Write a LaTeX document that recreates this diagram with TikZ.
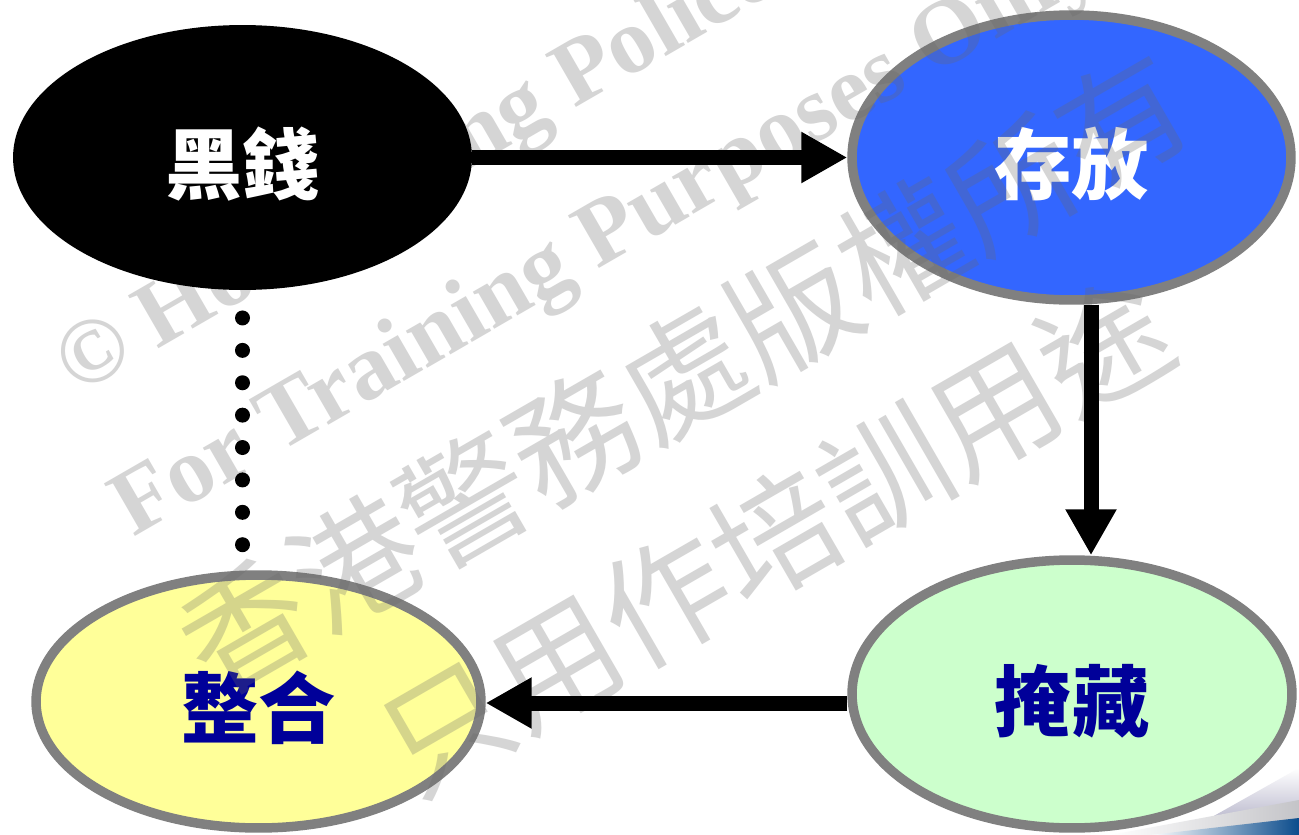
\documentclass[tikz,border=0pt]{standalone}
\usepackage{fontspec}
\newfontfamily\cjk{Noto Sans CJK TC}
\newfontfamily\wmserif{Liberation Serif}
\usetikzlibrary{shapes.geometric,arrows.meta}
\definecolor{nodeblue}{HTML}{3366FF}
\definecolor{bordergray}{HTML}{808080}
\definecolor{nodeyellow}{HTML}{FFFF99}
\definecolor{nodegreen}{HTML}{CCFFCC}
\definecolor{labelblue}{HTML}{000099}
\definecolor{wmgray}{RGB}{105,105,105}
\definecolor{swblue}{HTML}{0B4C8C}
\definecolor{swgray}{HTML}{C4C4C8}
\definecolor{swlav}{HTML}{A8A6C0}
\pgfdeclarelayer{wm}
\pgfdeclarelayer{top}
\pgfsetlayers{main,wm,top}
\begin{document}
\begin{tikzpicture}[x=0.02cm,y=-0.02cm,
  oval/.style={ellipse, inner sep=0pt, draw=bordergray, line width=0.19cm,
    font=\cjk\bfseries\fontsize{44}{44}\selectfont, text height=1.46cm, text depth=0cm},
  flow/.style={line width=0.3cm, -{Triangle[length=0.92cm,width=0.96cm]}},
  dots/.style={line width=0.3cm, line cap=round, dash pattern=on 0pt off 0.648cm, dash phase=0.088cm},
  wmen/.style={text=wmgray, text opacity=0.28, font=\wmserif\bfseries\fontsize{53}{53}\selectfont,
    rotate=30, inner sep=0pt, anchor=base west},
  wmzh/.style={text=wmgray, text opacity=0.28, font=\cjk\fontsize{72}{72}\selectfont,
    rotate=30, inner sep=0pt, anchor=center}]
\useasboundingbox (0,0) rectangle (1299,835);
\fill[white] (0,0) rectangle (1299,835);
% slide background swoosh (bottom right)
\shade[top color=white, bottom color=swlav] (1180,835) -- (1299,768) -- (1299,802) -- (1180,835) -- cycle;
\shade[left color=white, right color=swgray] (1110,835) -- (1299,800) -- (1299,835) -- cycle;
\shade[left color=white, right color=swblue] (1150,835) -- (1299,818) -- (1299,835) -- cycle;
% coloured nodes (under the watermark)
\node[oval, fill=nodeblue, text=white,
  minimum width=8.78cm, minimum height=5.7cm] (store) at (1071.5,157.5) {存放};
\node[oval, fill=nodegreen, text=labelblue,
  minimum width=8.8cm, minimum height=5.36cm] (hide) at (1072,694) {掩藏};
\node[oval, fill=nodeyellow, text=labelblue,
  minimum width=8.9cm, minimum height=5.06cm] (merge) at (258.5,701.5) {整合};
% watermark
\begin{pgfonlayer}{wm}
\begin{scope}
\clip (0,0) rectangle (1299,835);
\node[wmen] (wmA) at (77,396) {© Hong Kong Police Force};
\node[wmen] (wmB) at (133,538) {For Training Purposes Only};
\node[wmzh] (wmC) at (684,374) {香港警務處版權所有};
\node[wmzh] (wmD) at (775,536) {只用作培訓用途};
\end{scope}
\end{pgfonlayer}
% black node and connectors (over the watermark)
\begin{pgfonlayer}{top}
\node[oval, draw=none, outer sep=0pt, fill=black, text=white,
  minimum width=9.18cm, minimum height=5.3cm] (black) at (242.5,157.5) {黑錢};
\coordinate (vx) at (1091,0);
\coordinate (hy) at (0,703);
\draw[flow] (black) -- (store);
\draw[flow] (store.south -| vx) -- (hide.north -| vx);
\draw[flow] (hide.west |- hy) -- (merge.east |- hy);
\draw[dots] (black.south) -- (merge.north -| black.south);
\end{pgfonlayer}
\end{tikzpicture}
\end{document}
